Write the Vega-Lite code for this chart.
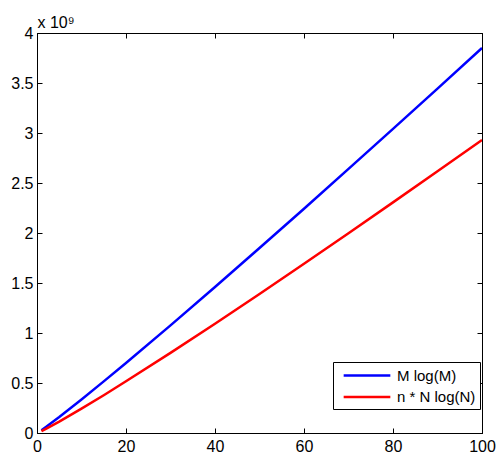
{
  "$schema": "https://vega.github.io/schema/vega-lite/v6.json",
  "autosize": "none",
  "width": 445,
  "height": 400,
  "padding": {"left": 37, "top": 33, "right": 14, "bottom": 25},
  "background": "white",
  "config": {
    "view": {"stroke": "black", "strokeWidth": 1},
    "font": "Liberation Sans",
    "axis": {
      "domainColor": "black",
      "tickColor": "black",
      "grid": false,
      "labelColor": "black",
      "labelFont": "Liberation Sans",
      "labelFontSize": 16,
      "tickSize": -5,
      "domainWidth": 1,
      "tickWidth": 1
    }
  },
  "data": {
    "values": [
      {"x": 1, "series": "M log(M)", "value": 28000000},
      {"x": 2, "series": "M log(M)", "value": 60000000},
      {"x": 5, "series": "M log(M)", "value": 160000000},
      {"x": 10, "series": "M log(M)", "value": 335000000},
      {"x": 15, "series": "M log(M)", "value": 516000000},
      {"x": 20, "series": "M log(M)", "value": 700000000},
      {"x": 30, "series": "M log(M)", "value": 1076000000},
      {"x": 40, "series": "M log(M)", "value": 1460000000},
      {"x": 50, "series": "M log(M)", "value": 1850000000},
      {"x": 60, "series": "M log(M)", "value": 2243000000},
      {"x": 70, "series": "M log(M)", "value": 2641000000},
      {"x": 80, "series": "M log(M)", "value": 3041000000},
      {"x": 90, "series": "M log(M)", "value": 3444000000},
      {"x": 100, "series": "M log(M)", "value": 3850000000},
      {"x": 1, "series": "n * N log(N)", "value": 19000000},
      {"x": 2, "series": "n * N log(N)", "value": 42000000},
      {"x": 5, "series": "n * N log(N)", "value": 114000000},
      {"x": 10, "series": "n * N log(N)", "value": 243000000},
      {"x": 15, "series": "n * N log(N)", "value": 378000000},
      {"x": 20, "series": "n * N log(N)", "value": 517000000},
      {"x": 30, "series": "n * N log(N)", "value": 801000000},
      {"x": 40, "series": "n * N log(N)", "value": 1093000000},
      {"x": 50, "series": "n * N log(N)", "value": 1390000000},
      {"x": 60, "series": "n * N log(N)", "value": 1692000000},
      {"x": 70, "series": "n * N log(N)", "value": 1997000000},
      {"x": 80, "series": "n * N log(N)", "value": 2306000000},
      {"x": 90, "series": "n * N log(N)", "value": 2617000000},
      {"x": 100, "series": "n * N log(N)", "value": 2930000000}
    ]
  },
  "layer": [
    {
      "mark": {"type": "line", "strokeWidth": 2.5, "clip": true},
      "encoding": {
        "x": {
          "field": "x", "type": "quantitative",
          "scale": {"domain": [0, 100], "nice": false, "zero": false},
          "axis": {"title": null, "values": [0, 20, 40, 60, 80, 100], "labelPadding": 10, "labelFlush": false}
        },
        "y": {
          "field": "value", "type": "quantitative",
          "scale": {"domain": [0, 4000000000], "nice": false},
          "axis": {
            "values": [0, 500000000, 1000000000, 1500000000, 2000000000, 2500000000, 3000000000, 3500000000, 4000000000],
            "labelExpr": "datum.value / 1e9",
            "labelPadding": 9,
            "labelFlush": false,
            "title": "x 10⁹",
            "titleAngle": 0,
            "titleAlign": "left",
            "titleBaseline": "alphabetic",
            "titleFontWeight": "normal",
            "titleFont": "Liberation Sans",
            "titleFontSize": 16,
            "titleX": 0,
            "titleY": -6
          }
        },
        "color": {
          "field": "series", "type": "nominal",
          "scale": {"domain": ["M log(M)", "n * N log(N)"], "range": ["#0000ff", "#ff0000"]},
          "legend": {
            "title": null,
            "orient": "none",
            "legendX": 296,
            "legendY": 329,
            "direction": "vertical",
            "strokeColor": "black",
            "fillColor": "white",
            "padding": 4,
            "symbolType": "M-3,0H3",
            "symbolSize": 242,
            "symbolOffset": 20.5,
            "symbolStrokeWidth": 2.5,
            "symbolFillColor": "transparent",
            "labelFont": "Liberation Sans",
            "labelFontSize": 15,
            "labelColor": "black",
            "labelOffset": 20.5,
            "rowPadding": 3.4
          }
        }
      }
    },
    {
      "mark": {"type": "line", "opacity": 0},
      "encoding": {
        "x": {"field": "x", "type": "quantitative", "axis": {"orient": "top", "labels": false, "title": null, "values": [0, 20, 40, 60, 80, 100]}},
        "y": {"field": "value", "type": "quantitative", "axis": {"orient": "right", "labels": false, "title": null, "values": [0, 500000000, 1000000000, 1500000000, 2000000000, 2500000000, 3000000000, 3500000000, 4000000000]}}
      }
    }
  ],
  "resolve": {"axis": {"x": "independent", "y": "independent"}}
}
